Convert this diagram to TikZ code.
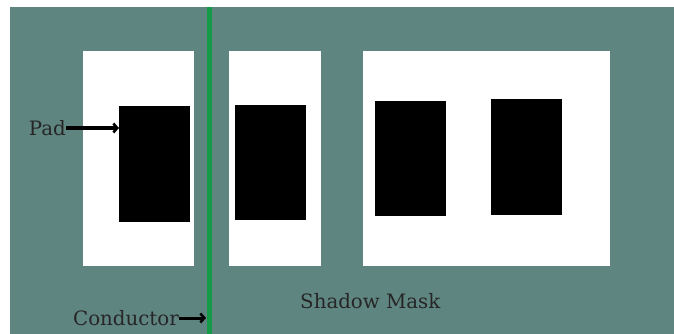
\documentclass[tikz,border=0pt]{standalone}
\usepackage{fontspec}
\setmainfont{DejaVu Serif}
\usetikzlibrary{arrows.meta}
\definecolor{bgteal}{HTML}{5F8581}
\definecolor{condgreen}{HTML}{159A48}
\tikzset{
  maskbox/.style={fill=white, draw=none},
  padbox/.style={fill=black, draw=none},
  lbl/.style={font=\fontsize{19.8}{22}\selectfont, text=black!85, inner sep=0pt},
  pointer/.style={line width=3pt, -{Straight Barb[length=4pt,width=9pt,line width=2.5pt]}}
}
\begin{document}
\begin{tikzpicture}[x=1pt,y=-1pt]
\useasboundingbox (0,0) rectangle (674,334);
\fill[white] (0,0) rectangle (674,334);
\fill[bgteal] (10,7) rectangle (674,334);
% mask openings
\fill[maskbox] (83,51) rectangle (194,266);
\fill[maskbox] (229,51) rectangle (321,266);
\fill[maskbox] (363,51) rectangle (610,266);
% pads
\fill[padbox] (119,106) rectangle (190,222);
\node[inner sep=0pt, minimum width=71pt, minimum height=116pt, anchor=north west] (pad1) at (119,106) {};
\fill[padbox] (235,105) rectangle (306,220);
\fill[padbox] (375,101) rectangle (446,216);
\fill[padbox] (491,99) rectangle (562,215);
% conductor
\draw[condgreen, line width=5pt] (209.5,7) -- (209.5,334);
\coordinate (condpt) at (206,318);
% labels
\node[lbl, anchor=east] (padlbl) at (66,128) {Pad};
\draw[pointer] (padlbl.east) -- (pad1.west |- padlbl.east);
\node[lbl, anchor=east] (condlbl) at (179,318) {Conductor};
\draw[pointer] (condlbl.east) -- (condpt);
\node[lbl, anchor=west] (masklbl) at (300,301) {Shadow Mask};
\end{tikzpicture}
\end{document}
